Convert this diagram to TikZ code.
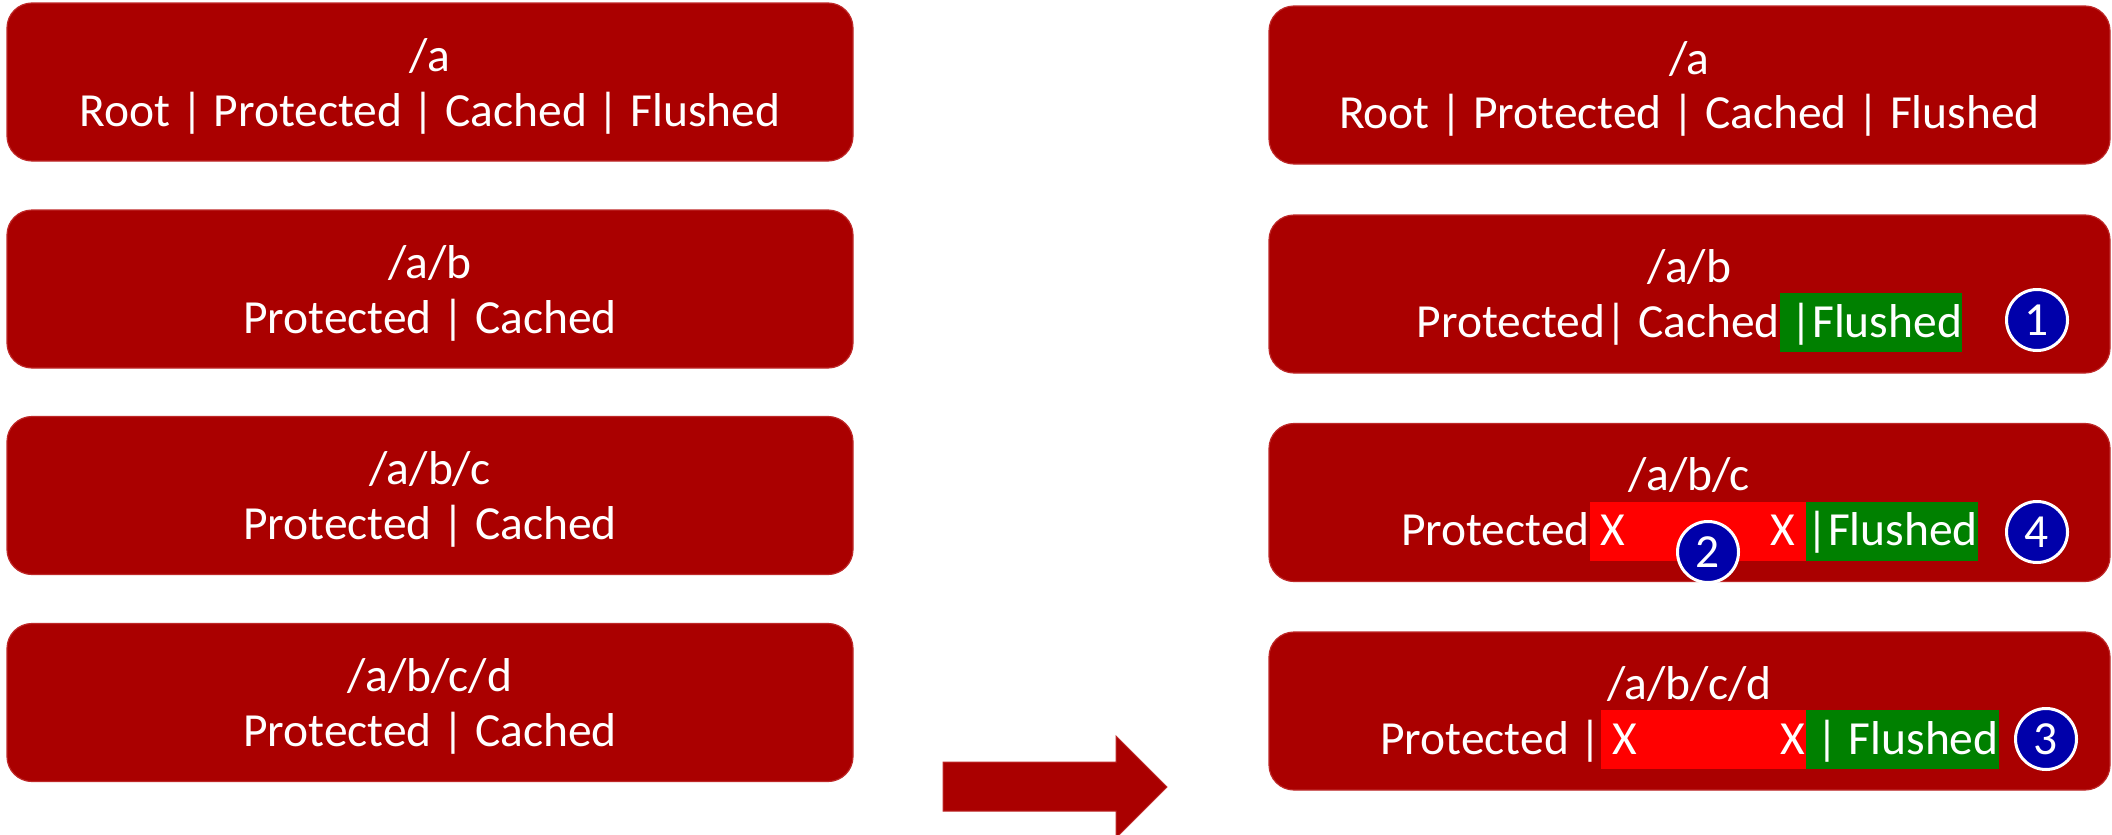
\documentclass[tikz,border=0pt]{standalone}
\usepackage{fontspec}
\setmainfont{Carlito}
\usetikzlibrary{calc}
\definecolor{boxred}{RGB}{170,0,0}
\definecolor{boxedge}{RGB}{190,40,40}
\definecolor{hlred}{RGB}{255,0,0}
\definecolor{hlgreen}{RGB}{0,128,0}
\definecolor{stepblue}{RGB}{0,0,170}
% highlighted run of text, one full line high
\newcommand\hlbox[2]{{\setlength{\fboxsep}{0pt}\colorbox{#1}{\rule[-15pt]{0pt}{59pt}#2}}}

\begin{document}
\begin{tikzpicture}[x=1pt,y=-1pt,
  pathbox/.style={draw=boxedge, line width=1.2pt, fill=boxred,
    rounded corners=25pt, minimum height=158pt, inner sep=0pt},
  lbox/.style={pathbox, minimum width=846pt},
  rbox/.style={pathbox, minimum width=841pt},
  txt/.style={text=white, inner sep=0pt, anchor=base,
    font=\fontsize{47.5}{57}\selectfont},
  badge/.style={circle, fill=stepblue, draw=white, line width=3pt,
    minimum size=61pt, inner sep=0pt, text=white,
    font=\fontsize{47.5}{57}\selectfont},
]
\useasboundingbox (0,0) rectangle (2112,835);

% ---- before: left column ----
\node[lbox] (L1) at (430,82) {};
\node[lbox] (L2) at (430,289) {};
\node[lbox] (L3) at (430,495.5) {};
\node[lbox] (L4) at (430,702.5) {};

\node[txt] (L1a) at ($(L1.center)+(0,-11)$) {/a};
\node[txt] (L1b) at ($(L1.center)+(0,44)$) {Root | Protected | Cached | Flushed};
\node[txt] (L2a) at ($(L2.center)+(0,-11)$) {/a/b};
\node[txt] (L2b) at ($(L2.center)+(0,44)$) {Protected | Cached};
\node[txt] (L3a) at ($(L3.center)+(0,-11)$) {/a/b/c};
\node[txt] (L3b) at ($(L3.center)+(0,44)$) {Protected | Cached};
\node[txt] (L4a) at ($(L4.center)+(0,-11)$) {/a/b/c/d};
\node[txt] (L4b) at ($(L4.center)+(0,44)$) {Protected | Cached};

% ---- transition arrow ----
\draw[fill=boxred, draw=boxedge, line width=1pt]
  (943,762) -- (1116,762) -- (1116,736) -- (1167,787)
  -- (1116,838) -- (1116,811) -- (943,811) -- cycle;

% ---- after: right column ----
\node[rbox] (R1) at (1689.5,85) {};
\node[rbox] (R2) at (1689.5,294) {};
\node[rbox] (R3) at (1689.5,502.5) {};
\node[rbox] (R4) at (1689.5,711) {};

\node[txt] (R1a) at ($(R1.center)+(0,-11)$) {/a};
\node[txt] (R1b) at ($(R1.center)+(0,43)$) {Root | Protected | Cached | Flushed};
\node[txt] (R2a) at ($(R2.center)+(0,-12)$) {/a/b};
\node[txt] (R2b) at ($(R2.center)+(0,43)$)
  {Protected| Cached\hlbox{hlgreen}{\ |Flushed}};
\node[txt] (R3a) at ($(R3.center)+(0,-12)$) {/a/b/c};
\node[txt] (R3b) at ($(R3.center)+(0,43)$)
  {Protected\hlbox{hlred}{\ X\hspace{146pt}X\ }\hlbox{hlgreen}{|Flushed}};
\node[txt] (R4a) at ($(R4.center)+(0,-12)$) {/a/b/c/d};
\node[txt] (R4b) at ($(R4.center)+(0,43)$)
  {Protected |\hlbox{hlred}{\ X\hspace{144pt}X}\hlbox{hlgreen}{\ | Flushed}};

% ---- step markers ----
\node[badge] (s1) at (2037,320) {1};
\node[badge] (s2) at (1708,552) {2};
\node[badge] (s3) at (2046,739) {3};
\node[badge] (s4) at (2037,532) {4};
\end{tikzpicture}
\end{document}
